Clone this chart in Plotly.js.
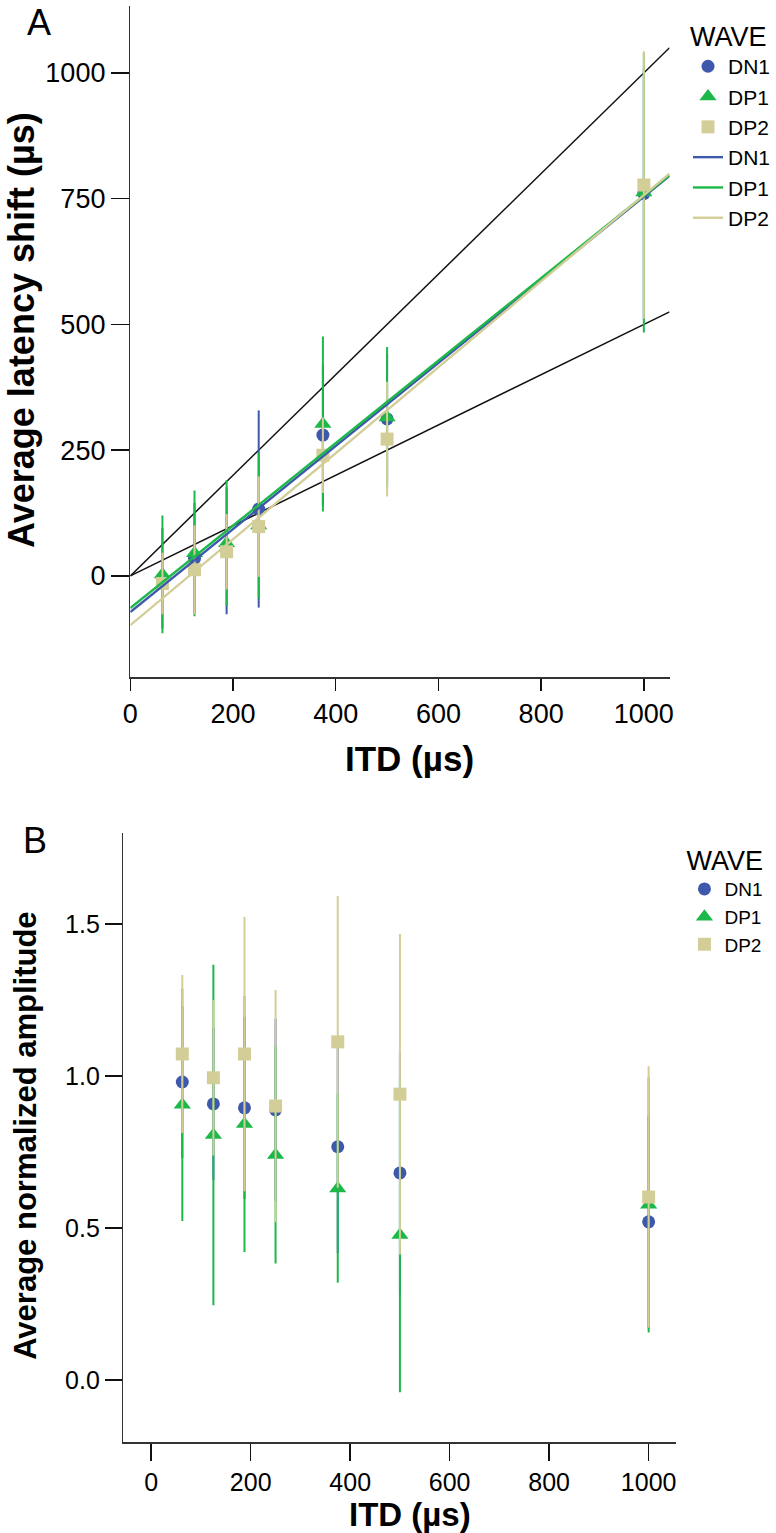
<!DOCTYPE html>
<html><head><meta charset="utf-8">
<script src="https://cdn.plot.ly/plotly-3.0.1.min.js"></script>
<style>html,body{margin:0;padding:0;background:#fff;}#chart{width:776px;height:1533px;}</style>
</head><body><div id="chart"></div>
<script>
// ---- data ----
const itd = [62.5, 125, 187.5, 250, 375, 500, 1000];
const waveNames = ['DN1', 'DP1', 'DP2'];

// Panel A: average latency shift (µs)
const latDN1 = [-5, 35, 50, 133, 280, 312, 760];
const latDN1Err = [100, 110, 126, 196, 140, 130, 250];
const latDP1 = [3, 45, 65, 100, 302, 315, 762];
const latDP1Err = [117, 125, 125, 145, 174, 140, 278];
const latDP2 = [-15, 12, 48, 98, 240, 272, 777];
const latDP2Err = [61, 88, 75, 100, 75, 114, 266];

// fitted regression lines (intercept, slope) per wave
const fitIntercept = [-72, -64, -98];
const fitSlope = [0.826, 0.820, 0.855];
const fitXRange = [0, 1050];
// reference lines y = k * x
const refSlopes = [1, 0.5];

// Panel B: average normalized amplitude
const ampDN1 = [0.980, 0.908, 0.895, 0.888, 0.767, 0.681, 0.520];
const ampDN1Err = [0.25, 0.25, 0.30, 0.30, 0.35, 0.40, 0.35];
const ampDP1 = [0.905, 0.806, 0.842, 0.740, 0.630, 0.477, 0.576];
const ampDP1Err = [0.382, 0.560, 0.421, 0.357, 0.310, 0.517, 0.420];
const ampDP2 = [1.072, 0.994, 1.072, 0.901, 1.112, 0.940, 0.602];
const ampDP2Err = [0.260, 0.256, 0.451, 0.382, 0.480, 0.527, 0.430];

const xTicks = [0, 200, 400, 600, 800, 1000];
const yTicksA = [0, 250, 500, 750, 1000];
const yTicksB = [0.0, 0.5, 1.0, 1.5];

// ---- style ----
const W = 776, H = 1533;
const px = v => v / W;
const py = v => 1 - v / H;
const colors = ['#3E58AC', '#1DB84A', '#D3CE97'];
const symbols = ['circle', 'triangle-up', 'square'];
const sizes = [13, 15, 13];
const FONT = 'Liberation Sans, Arial, sans-serif';

const latMeans = [latDN1, latDP1, latDP2];
const latErrs = [latDN1Err, latDP1Err, latDP2Err];
const ampMeans = [ampDN1, ampDP1, ampDP2];
const ampErrs = [ampDN1Err, ampDP1Err, ampDP2Err];

const traces = [];
// reference lines (panel A)
refSlopes.forEach(k => {
  traces.push({
    x: fitXRange, y: fitXRange.map(x => k * x), mode: 'lines',
    line: {color: '#111', width: 1.5}, showlegend: false, hoverinfo: 'skip',
    xaxis: 'x', yaxis: 'y'
  });
});
// markers panel A
waveNames.forEach((n, i) => {
  traces.push({
    x: itd, y: latMeans[i], name: n, mode: 'markers', type: 'scatter',
    marker: {color: colors[i], symbol: symbols[i], size: sizes[i], line: {width: 0}},
    error_y: {type: 'data', array: latErrs[i], visible: true, color: colors[i], thickness: 2, width: 0},
    xaxis: 'x', yaxis: 'y', legend: 'legend'
  });
});
// fit lines panel A
waveNames.forEach((n, i) => {
  traces.push({
    x: fitXRange, y: fitXRange.map(x => fitIntercept[i] + fitSlope[i] * x), name: n, mode: 'lines',
    line: {color: colors[i], width: 2.4},
    xaxis: 'x', yaxis: 'y', legend: 'legend'
  });
});
// markers panel B
waveNames.forEach((n, i) => {
  traces.push({
    x: itd, y: ampMeans[i], name: n, mode: 'markers', type: 'scatter',
    marker: {color: colors[i], symbol: symbols[i], size: sizes[i], line: {width: 0}},
    error_y: {type: 'data', array: ampErrs[i], visible: true, color: colors[i], thickness: 2, width: 0},
    xaxis: 'x2', yaxis: 'y2', legend: 'legend2'
  });
});

const axisCommon = {
  showgrid: false, zeroline: false, showline: true, linecolor: '#333', linewidth: 1.5,
  ticks: 'outside', tickcolor: '#111', tickwidth: 1.5, color: '#000'
};

const layout = {
  width: W, height: H,
  margin: {l: 0, r: 0, t: 0, b: 0},
  paper_bgcolor: '#fff', plot_bgcolor: '#fff',
  font: {family: FONT, color: '#000'},
  showlegend: true,
  xaxis: Object.assign({}, axisCommon, {
    domain: [px(131), px(673)], range: [0, 1050], anchor: 'y',
    tickvals: xTicks, ticklen: 12, tickfont: {size: 27, family: FONT}
  }),
  yaxis: Object.assign({}, axisCommon, {
    domain: [py(677), py(6)], range: [-201, 1133], anchor: 'x',
    tickvals: yTicksA, ticklen: 18, tickfont: {size: 27, family: FONT}
  }),
  xaxis2: Object.assign({}, axisCommon, {
    domain: [px(124), px(679)], range: [-56, 1054], anchor: 'y2',
    tickvals: xTicks, ticklen: 17, tickfont: {size: 25, family: FONT}
  }),
  yaxis2: Object.assign({}, axisCommon, {
    domain: [py(1442), py(833)], range: [-0.204, 1.799], anchor: 'x2',
    tickvals: yTicksB, tickformat: '.1f', ticklen: 17, tickfont: {size: 25, family: FONT}
  }),
  legend: {
    x: px(692), xanchor: 'left', y: py(11), yanchor: 'top',
    bgcolor: 'rgba(0,0,0,0)', borderwidth: 0,
    title: {text: 'WAVE', font: {size: 27, family: FONT}},
    font: {size: 21, family: FONT}, itemwidth: 30, tracegroupgap: 0
  },
  legend2: {
    x: px(688), xanchor: 'left', y: py(835), yanchor: 'top',
    bgcolor: 'rgba(0,0,0,0)', borderwidth: 0,
    title: {text: 'WAVE', font: {size: 27, family: FONT}},
    font: {size: 19, family: FONT}, itemwidth: 30, tracegroupgap: 0
  },
  annotations: [
    {text: 'A', x: px(39), y: py(22), xref: 'paper', yref: 'paper', showarrow: false,
     xanchor: 'center', yanchor: 'middle', font: {size: 36, family: FONT}},
    {text: 'B', x: px(35), y: py(840), xref: 'paper', yref: 'paper', showarrow: false,
     xanchor: 'center', yanchor: 'middle', font: {size: 36, family: FONT}},
    {text: '<b>Average latency shift (µs)</b>', x: px(21), y: py(330), xref: 'paper', yref: 'paper',
     showarrow: false, textangle: -90, xanchor: 'center', yanchor: 'middle', font: {size: 36, family: FONT}},
    {text: '<b>ITD (µs)</b>', x: px(412), y: py(758), xref: 'paper', yref: 'paper',
     showarrow: false, xanchor: 'center', yanchor: 'middle', font: {size: 35, family: FONT}},
    {text: '<b>Average normalized amplitude</b>', x: px(25), y: py(1136), xref: 'paper', yref: 'paper',
     showarrow: false, textangle: -90, xanchor: 'center', yanchor: 'middle', font: {size: 31, family: FONT}},
    {text: '<b>ITD (µs)</b>', x: px(412), y: py(1514), xref: 'paper', yref: 'paper',
     showarrow: false, xanchor: 'center', yanchor: 'middle', font: {size: 33, family: FONT}}
  ]
};

Plotly.newPlot('chart', traces, layout, {staticPlot: true, displayModeBar: false});
</script>
</body></html>
